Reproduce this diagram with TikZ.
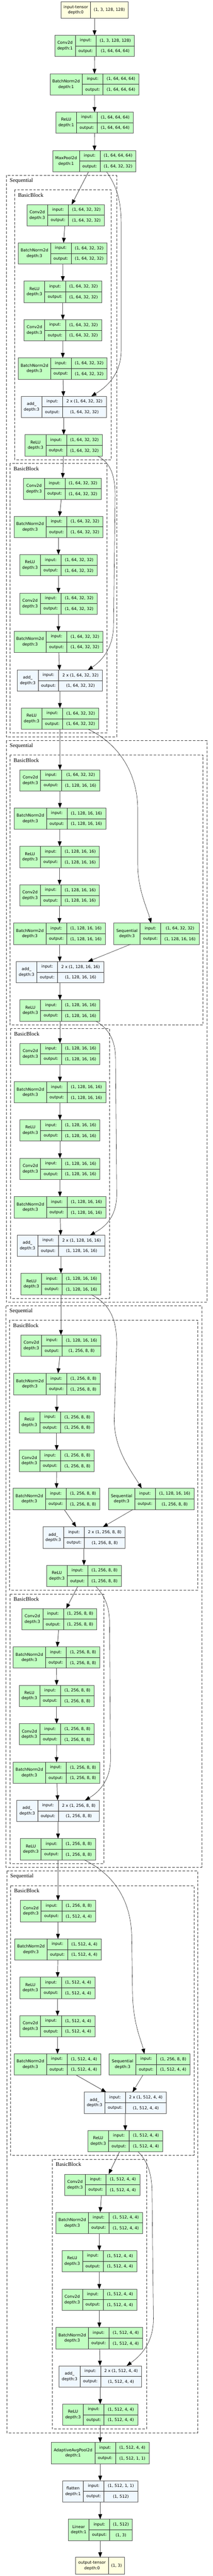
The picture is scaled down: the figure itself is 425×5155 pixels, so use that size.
\documentclass[tikz,border=0pt]{standalone}
\usepackage{fontspec}
\setmainfont{DejaVu Sans}
\newfontfamily\nfont{DejaVu Sans}
\newfontfamily\clfont{Liberation Serif}
\usetikzlibrary{arrows.meta}
\definecolor{tgreen}{HTML}{C1FFC1}
\definecolor{tblue}{HTML}{F0F8FF}
\definecolor{tyellow}{HTML}{FFFFE0}
\tikzset{
 tb/.style={draw=black!65, line width=0.8pt, inner sep=0pt, outer sep=0pt},
 tbl/.style={draw=black!80, line width=0.8pt},
 txt/.style={inner sep=0pt, font=\nfont\fontsize{8}{11}\selectfont},
 clus/.style={draw=black!75, line width=0.8pt, dash pattern=on 5pt off 3pt},
 cltxt/.style={inner sep=0pt, font=\clfont\fontsize{11}{13}\selectfont},
 e/.style={draw=black!65, line width=1pt, -{Triangle[length=10pt,width=7.5pt,color=black]}},
 sk/.style={draw=black!85, line width=0.6pt, -{Triangle[length=10pt,width=7.5pt,color=black]}},
}
\newcommand\tbox[6]{\tbparse#2\relax{#1}{#3}{#4}{#5}\tbfinish{#6}}
\def\tbparse#1,#2,#3,#4,#5\relax#6#7#8#9{%
  \def\tbxa{#1}\def\tbxb{#2}\def\tbxc{#3}\def\tbxd{#4}\def\tbyt{#5}%
  \def\tbname{#6}\def\tbfill{#7}\def\tblabel{#8}\def\tbin{#9}}
\newcommand\tbfinish[1]{%
  \pgfmathsetmacro\tbw{\tbxd-\tbxa}%
  \pgfmathsetmacro\tbcx{(\tbxa+\tbxd)/2}%
  \pgfmathsetmacro\tbym{\tbyt+21.25}%
  \pgfmathsetmacro\tbyb{\tbyt+42.5}%
  \node[tb, fill=\tbfill, minimum width=\tbw pt, minimum height=42.5pt] (\tbname) at (\tbcx,\tbym) {};
  \draw[tbl] (\tbxb,\tbyt) -- (\tbxb,\tbyb) (\tbxc,\tbyt) -- (\tbxc,\tbyb) (\tbxb,\tbym) -- (\tbxd,\tbym);
  \node[txt,align=center] (\tbname-name) at ({(\tbxa+\tbxb)/2},\tbym) {\tblabel};
  \node[txt] (\tbname-inl) at ({(\tbxb+\tbxc)/2},{\tbyt+10.6}) {input:};
  \node[txt] (\tbname-outl) at ({(\tbxb+\tbxc)/2},{\tbyt+31.9}) {output:};
  \node[txt] (\tbname-in) at ({(\tbxc+\tbxd)/2},{\tbyt+10.6}) {\tbin};
  \node[txt] (\tbname-out) at ({(\tbxc+\tbxd)/2},{\tbyt+31.9}) {#1};
}
\newcommand\tio[4]{\tioparse#2\relax{#1}{#3}{#4}}
\def\tioparse#1,#2,#3,#4,#5\relax#6#7#8{%
  \pgfmathsetmacro\tbw{#3-#1}%
  \pgfmathsetmacro\tbcx{(#1+#3)/2}%
  \pgfmathsetmacro\tbym{#4+#5/2}%
  \pgfmathsetmacro\tbyb{#4+#5}%
  \node[tb, fill=tyellow, minimum width=\tbw pt, minimum height=#5pt] (#6) at (\tbcx,\tbym) {};
  \draw[tbl] (#2,#4) -- (#2,\tbyb);
  \node[txt,align=center] (#6-name) at ({(#1+#2)/2},\tbym) {#7};
  \node[txt] (#6-shape) at ({(#2+#3)/2},\tbym) {#8};
}
\newcommand\cluster[6]{%
  \draw[clus] (#2,#3) rectangle (#4,#5);
  \node[cltxt, anchor=west] (#1) at ({#2+7},{#3+10.5}) {#6};
}
\begin{document}
\begin{tikzpicture}[x=1pt,y=-1pt]
\useasboundingbox (0,0) rectangle (425,5155);
\fill[white] (0,0) rectangle (425,5155);
% clusters
\cluster{s1}{12.3}{351}{233}{1474.3}{Sequential}
\cluster{s1b0}{29}{380}{222.3}{920}{BasicBlock}
\cluster{s1b1}{20}{927.7}{213.7}{1466.7}{BasicBlock}
\cluster{s2}{12.3}{1482.3}{413.7}{2606}{Sequential}
\cluster{s2b0}{20}{1511}{406}{2051}{BasicBlock}
\cluster{s2b1}{21}{2058.3}{218.7}{2598.3}{BasicBlock}
\cluster{s3}{11.7}{2613.3}{403.3}{3736.7}{Sequential}
\cluster{s3b0}{19}{2642.3}{395.7}{3182.3}{BasicBlock}
\cluster{s3b1}{20}{3190}{207.3}{3729.3}{BasicBlock}
\cluster{s4}{13.3}{3744.3}{395.7}{4868.3}{Sequential}
\cluster{s4b0}{21}{3773.3}{387.7}{4313.3}{BasicBlock}
\cluster{s4b1}{104.3}{4321}{292.7}{4860.7}{BasicBlock}
% stem
\tio{inT}{122,181,256,3.7,32.3}{input-tensor\\depth:0}{(1, 3, 128, 128)}
\tbox{c0}{109.3,150.7,192,268.7,70.7}{tgreen}{Conv2d\\depth:1}{(1, 3, 128, 128)}{(1, 64, 64, 64)}
\tbox{bn0}{100,164.3,206,277.7,147.7}{tgreen}{BatchNorm2d\\depth:1}{(1, 64, 64, 64)}{(1, 64, 64, 64)}
\tbox{r0}{111.7,153,194.3,266.3,224.3}{tgreen}{ReLU\\depth:1}{(1, 64, 64, 64)}{(1, 64, 64, 64)}
\tbox{mp}{105.7,158.7,200,272,301.3}{tgreen}{MaxPool2d\\depth:1}{(1, 64, 64, 64)}{(1, 64, 32, 32)}
% layer1 block0
\tbox{a1c1}{53.7,95.3,136.7,208.7,409.3}{tgreen}{Conv2d\\depth:3}{(1, 64, 32, 32)}{(1, 64, 32, 32)}
\tbox{a1b1}{36.7,101,142.3,214.3,486}{tgreen}{BatchNorm2d\\depth:3}{(1, 64, 32, 32)}{(1, 64, 32, 32)}
\tbox{a1r1}{48.3,89.3,131,203,562.7}{tgreen}{ReLU\\depth:3}{(1, 64, 32, 32)}{(1, 64, 32, 32)}
\tbox{a1c2}{48.3,89.3,131,203,639.7}{tgreen}{Conv2d\\depth:3}{(1, 64, 32, 32)}{(1, 64, 32, 32)}
\tbox{a1b2}{36.7,101,142.3,214.3,716.3}{tgreen}{BatchNorm2d\\depth:3}{(1, 64, 32, 32)}{(1, 64, 32, 32)}
\tbox{a1add}{42.3,84,125.3,212.3,793}{tblue}{add\_\\depth:3}{2 x (1, 64, 32, 32)}{(1, 64, 32, 32)}
\tbox{a1r2}{50.3,91.7,133,204.7,870}{tgreen}{ReLU\\depth:3}{(1, 64, 32, 32)}{(1, 64, 32, 32)}
% layer1 block1
\tbox{b1c1}{47.3,88.7,130,202,956.7}{tgreen}{Conv2d\\depth:3}{(1, 64, 32, 32)}{(1, 64, 32, 32)}
\tbox{b1b1}{28,92.3,133.7,205.7,1033.3}{tgreen}{BatchNorm2d\\depth:3}{(1, 64, 32, 32)}{(1, 64, 32, 32)}
\tbox{b1r1}{39.3,80.7,122.3,194.3,1110}{tgreen}{ReLU\\depth:3}{(1, 64, 32, 32)}{(1, 64, 32, 32)}
\tbox{b1c2}{39.3,80.7,122.3,194.3,1186.7}{tgreen}{Conv2d\\depth:3}{(1, 64, 32, 32)}{(1, 64, 32, 32)}
\tbox{b1b2}{28,92.3,133.7,205.7,1263.3}{tgreen}{BatchNorm2d\\depth:3}{(1, 64, 32, 32)}{(1, 64, 32, 32)}
\tbox{b1add}{34.7,76.3,117.3,204.7,1340.7}{tblue}{add\_\\depth:3}{2 x (1, 64, 32, 32)}{(1, 64, 32, 32)}
\tbox{b1r2}{42.3,84,125.3,197.3,1417}{tgreen}{ReLU\\depth:3}{(1, 64, 32, 32)}{(1, 64, 32, 32)}
% layer2 block0
\tbox{a2c1}{40,81.3,122.7,199.7,1540.3}{tgreen}{Conv2d\\depth:3}{(1, 64, 32, 32)}{(1, 128, 16, 16)}
\tbox{a2b1}{28.3,93,134.3,211.3,1617}{tgreen}{BatchNorm2d\\depth:3}{(1, 128, 16, 16)}{(1, 128, 16, 16)}
\tbox{a2r1}{39.3,80.7,122,198.7,1693.7}{tgreen}{ReLU\\depth:3}{(1, 128, 16, 16)}{(1, 128, 16, 16)}
\tbox{a2c2}{39.3,80.7,122,198.7,1770.7}{tgreen}{Conv2d\\depth:3}{(1, 128, 16, 16)}{(1, 128, 16, 16)}
\tbox{a2b2}{27.3,92,133.3,210.3,1847.3}{tgreen}{BatchNorm2d\\depth:3}{(1, 128, 16, 16)}{(1, 128, 16, 16)}
\tbox{a2ds}{227.3,280.3,321.3,398.3,1847.3}{tgreen}{Sequential\\depth:3}{(1, 64, 32, 32)}{(1, 128, 16, 16)}
\tbox{a2add}{32.3,73.7,115,207.3,1924.3}{tblue}{add\_\\depth:3}{2 x (1, 128, 16, 16)}{(1, 128, 16, 16)}
\tbox{a2r2}{40,81.3,122.7,199.7,2001}{tgreen}{ReLU\\depth:3}{(1, 128, 16, 16)}{(1, 128, 16, 16)}
% layer2 block1
\tbox{b2c1}{40,81.3,122.7,199.7,2087.7}{tgreen}{Conv2d\\depth:3}{(1, 128, 16, 16)}{(1, 128, 16, 16)}
\tbox{b2b1}{28.3,93,134.3,211.3,2164.7}{tgreen}{BatchNorm2d\\depth:3}{(1, 128, 16, 16)}{(1, 128, 16, 16)}
\tbox{b2r1}{40,81.3,122.7,199.7,2241}{tgreen}{ReLU\\depth:3}{(1, 128, 16, 16)}{(1, 128, 16, 16)}
\tbox{b2c2}{40,81.3,122.7,199.7,2318}{tgreen}{Conv2d\\depth:3}{(1, 128, 16, 16)}{(1, 128, 16, 16)}
\tbox{b2b2}{28.3,93,134.3,211.3,2394.7}{tgreen}{BatchNorm2d\\depth:3}{(1, 128, 16, 16)}{(1, 128, 16, 16)}
\tbox{b2add}{34.3,75.7,117,209.3,2471.7}{tblue}{add\_\\depth:3}{2 x (1, 128, 16, 16)}{(1, 128, 16, 16)}
\tbox{b2r2}{42,83.3,124.3,201.7,2548.3}{tgreen}{ReLU\\depth:3}{(1, 128, 16, 16)}{(1, 128, 16, 16)}
% layer3 block0
\tbox{a3c1}{42,83.3,124.3,201.7,2671.7}{tgreen}{Conv2d\\depth:3}{(1, 128, 16, 16)}{(1, 256, 8, 8)}
\tbox{a3b1}{27.3,92,133.3,200.3,2748.3}{tgreen}{BatchNorm2d\\depth:3}{(1, 256, 8, 8)}{(1, 256, 8, 8)}
\tbox{a3r1}{38.3,79.3,121,188.3,2825.3}{tgreen}{ReLU\\depth:3}{(1, 256, 8, 8)}{(1, 256, 8, 8)}
\tbox{a3c2}{38.3,79.3,121,188.3,2902}{tgreen}{Conv2d\\depth:3}{(1, 256, 8, 8)}{(1, 256, 8, 8)}
\tbox{a3b2}{26.3,91,132.3,199.7,2978.3}{tgreen}{BatchNorm2d\\depth:3}{(1, 256, 8, 8)}{(1, 256, 8, 8)}
\tbox{a3ds}{216.7,269.3,310.7,387.7,2978.3}{tgreen}{Sequential\\depth:3}{(1, 128, 16, 16)}{(1, 256, 8, 8)}
\tbox{a3add}{85.7,127.3,168.7,250,3055.7}{tblue}{add\_\\depth:3}{2 x (1, 256, 8, 8)}{(1, 256, 8, 8)}
\tbox{a3r2}{93,134.3,175.3,242.7,3132.3}{tgreen}{ReLU\\depth:3}{(1, 256, 8, 8)}{(1, 256, 8, 8)}
% layer3 block1
\tbox{b3c1}{43.7,85.7,126.7,193.7,3219}{tgreen}{Conv2d\\depth:3}{(1, 256, 8, 8)}{(1, 256, 8, 8)}
\tbox{b3b1}{26.3,91,132.3,199.7,3295.7}{tgreen}{BatchNorm2d\\depth:3}{(1, 256, 8, 8)}{(1, 256, 8, 8)}
\tbox{b3r1}{38.3,79.3,121,188.3,3372.3}{tgreen}{ReLU\\depth:3}{(1, 256, 8, 8)}{(1, 256, 8, 8)}
\tbox{b3c2}{38.3,79.3,121,188.3,3449.3}{tgreen}{Conv2d\\depth:3}{(1, 256, 8, 8)}{(1, 256, 8, 8)}
\tbox{b3b2}{26.3,91,132.3,199.7,3526.3}{tgreen}{BatchNorm2d\\depth:3}{(1, 256, 8, 8)}{(1, 256, 8, 8)}
\tbox{b3add}{33.7,75.3,116.7,198.3,3602.7}{tblue}{add\_\\depth:3}{2 x (1, 256, 8, 8)}{(1, 256, 8, 8)}
\tbox{b3r2}{41,82.3,123.7,191,3679.3}{tgreen}{ReLU\\depth:3}{(1, 256, 8, 8)}{(1, 256, 8, 8)}
% layer4 block0
\tbox{a4c1}{41,82.3,123.7,191,3803}{tgreen}{Conv2d\\depth:3}{(1, 256, 8, 8)}{(1, 512, 4, 4)}
\tbox{a4b1}{29.3,94.3,135.3,202.3,3880}{tgreen}{BatchNorm2d\\depth:3}{(1, 512, 4, 4)}{(1, 512, 4, 4)}
\tbox{a4r1}{40,81.3,122.7,190,3956.7}{tgreen}{ReLU\\depth:3}{(1, 512, 4, 4)}{(1, 512, 4, 4)}
\tbox{a4c2}{40,81.3,122.7,190,4033.7}{tgreen}{Conv2d\\depth:3}{(1, 512, 4, 4)}{(1, 512, 4, 4)}
\tbox{a4b2}{28.3,93,134.3,201.7,4110}{tgreen}{BatchNorm2d\\depth:3}{(1, 512, 4, 4)}{(1, 512, 4, 4)}
\tbox{a4ds}{218.3,271.7,312.7,380,4110}{tgreen}{Sequential\\depth:3}{(1, 256, 8, 8)}{(1, 512, 4, 4)}
\tbox{a4add}{168.3,209.7,250.7,332.3,4186.7}{tblue}{add\_\\depth:3}{2 x (1, 512, 4, 4)}{(1, 512, 4, 4)}
\tbox{a4r2}{175.7,217,258.3,325.3,4263.3}{tgreen}{ReLU\\depth:3}{(1, 512, 4, 4)}{(1, 512, 4, 4)}
% layer4 block1
\tbox{b4c1}{129.3,170.7,212,279.3,4350.7}{tgreen}{Conv2d\\depth:3}{(1, 512, 4, 4)}{(1, 512, 4, 4)}
\tbox{b4b1}{112,176.7,217.7,285.3,4427}{tgreen}{BatchNorm2d\\depth:3}{(1, 512, 4, 4)}{(1, 512, 4, 4)}
\tbox{b4r1}{123.7,165,206.3,273.3,4503.7}{tgreen}{ReLU\\depth:3}{(1, 512, 4, 4)}{(1, 512, 4, 4)}
\tbox{b4c2}{123.7,165,206.3,273.3,4580.7}{tgreen}{Conv2d\\depth:3}{(1, 512, 4, 4)}{(1, 512, 4, 4)}
\tbox{b4b2}{112,176.7,217.7,285.3,4657.7}{tgreen}{BatchNorm2d\\depth:3}{(1, 512, 4, 4)}{(1, 512, 4, 4)}
\tbox{b4add}{118.3,160,201.3,282.7,4734.3}{tblue}{add\_\\depth:3}{2 x (1, 512, 4, 4)}{(1, 512, 4, 4)}
\tbox{b4r2}{125.3,166.7,208,275.3,4811}{tgreen}{ReLU\\depth:3}{(1, 512, 4, 4)}{(1, 512, 4, 4)}
% head
\tbox{avg}{102.3,189.7,231,298.3,4887.7}{tgreen}{AdaptiveAvgPool2d\\depth:1}{(1, 512, 4, 4)}{(1, 512, 1, 1)}
\tbox{fl}{125.3,166.7,208,275.3,4964.3}{tblue}{flatten\\depth:1}{(1, 512, 1, 1)}{(1, 512)}
\tbox{lin}{136.3,178,219.3,264.3,5041.3}{tgreen}{Linear\\depth:1}{(1, 512)}{(1, 3)}
\tio{outT}{151.3,216.7,249.3,5117.7,33.3}{output-tensor\\depth:0}{(1, 3)}
% main edges
\foreach \a/\b in {inT/c0,c0/bn0,bn0/r0,r0/mp,
  a1c1/a1b1,a1b1/a1r1,a1r1/a1c2,a1c2/a1b2,a1b2/a1add,a1add/a1r2,a1r2/b1c1,
  b1c1/b1b1,b1b1/b1r1,b1r1/b1c2,b1c2/b1b2,b1b2/b1add,b1add/b1r2,b1r2/a2c1,
  a2c1/a2b1,a2b1/a2r1,a2r1/a2c2,a2c2/a2b2,a2b2/a2add,a2add/a2r2,a2r2/b2c1,
  b2c1/b2b1,b2b1/b2r1,b2r1/b2c2,b2c2/b2b2,b2b2/b2add,b2add/b2r2,b2r2/a3c1,
  a3c1/a3b1,a3b1/a3r1,a3r1/a3c2,a3c2/a3b2,a3add/a3r2,
  b3c1/b3b1,b3b1/b3r1,b3r1/b3c2,b3c2/b3b2,b3b2/b3add,b3add/b3r2,b3r2/a4c1,
  a4c1/a4b1,a4b1/a4r1,a4r1/a4c2,a4c2/a4b2,a4add/a4r2,
  b4c1/b4b1,b4b1/b4r1,b4r1/b4c2,b4c2/b4b2,b4b2/b4add,b4add/b4r2,
  b4r2/avg,avg/fl,fl/lin,lin/outT}
  {\draw[e] (\a) -- (\b);}
\draw[e] ([xshift=-11.85pt]mp.south) -- ([xshift=12.1pt]a1c1.north);
\draw[e] ([xshift=15.3pt]a3b2.south) -- ([xshift=-15.5pt]a3add.north);
\draw[e] ([xshift=-12.5pt]a3r2.south) -- ([xshift=13.6pt]b3c1.north);
\draw[e] ([xshift=37.3pt]a4b2.south) -- ([xshift=-38pt]a4add.north);
\draw[e] ([xshift=-11.5pt]a4r2.south) -- ([xshift=13pt]b4c1.north);
% downsample edges
\draw[sk] ([xshift=-52.1pt]a2ds.south) -- ([xshift=55.9pt]a2add.north);
\draw[sk] ([xshift=-36.5pt]a3ds.south) -- ([xshift=37.85pt]a3add.north);
\draw[sk] ([xshift=-13.45pt]a4ds.south) -- ([xshift=14.7pt]a4add.north);
% skip connections
\draw[sk] ([xshift=24.15pt]mp.south) .. controls (235,375) and (242.3,405) .. (242.3,450)
  -- (242.3,700) .. controls (242.3,750) and (212,775) .. ([xshift=55.4pt]a1add.north);
\draw[sk] ([xshift=67.5pt]a1r2.south) .. controls (220,925) and (230,950) .. (230,990)
  -- (227,1250) .. controls (227,1300) and (200,1325) .. ([xshift=56pt]b1add.north);
\draw[sk] ([xshift=56.9pt]b1r2.south) .. controls (240,1490) and (275.3,1550) .. (275.3,1620)
  -- (275.3,1730) .. controls (275.3,1780) and (295,1820) .. ([xshift=-10.8pt]a2ds.north);
\draw[sk] ([xshift=71.85pt]a2r2.south) .. controls (220,2060) and (231,2085) .. (231,2120)
  -- (233.3,2390) .. controls (233.3,2440) and (205,2458) .. ([xshift=58.2pt]b2add.north);
\draw[sk] ([xshift=60.85pt]b2r2.south) .. controls (220,2610) and (233.3,2640) .. (233.3,2690)
  -- (228.3,2840) .. controls (228.3,2900) and (260,2940) .. ([xshift=-18.9pt]a3ds.north);
\draw[sk] ([xshift=23.85pt]a3r2.south) .. controls (210,3195) and (219,3215) .. (219,3250)
  -- (221,3520) .. controls (221,3565) and (195,3588) .. ([xshift=54pt]b3add.north);
\draw[sk] ([xshift=52.3pt]b3r2.south) .. controls (225,3750) and (263.3,3800) .. (263.3,3880)
  -- (265,3990) .. controls (266,4050) and (283,4085) .. ([xshift=-10.5pt]a4ds.north);
\draw[sk] ([xshift=25.5pt]a4r2.south) .. controls (295,4325) and (304,4350) .. (304,4390)
  -- (306.7,4640) .. controls (306.7,4690) and (280,4715) .. ([xshift=52.8pt]b4add.north);
\end{tikzpicture}
\end{document}
